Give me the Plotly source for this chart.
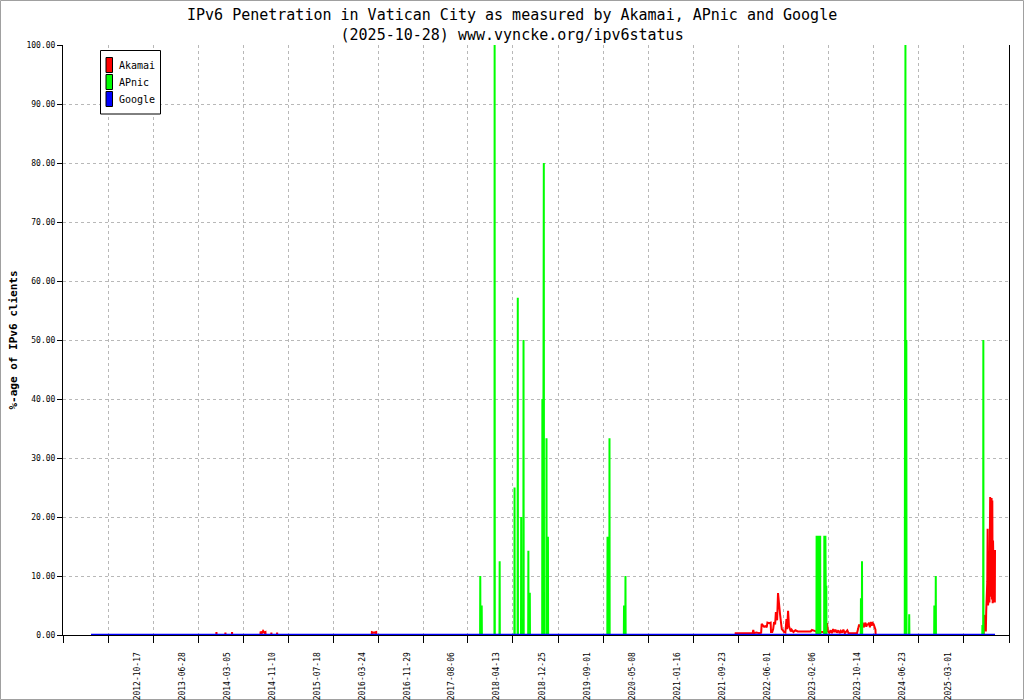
import plotly.graph_objects as go

# === Data (% of IPv6 clients) ===
google_dates = ["2011-11-06", "2025-08-21"]
google_values = [0, 0]

apnic_dates = [
    "2011-11-06",
    "2017-10-13", "2017-10-14", "2017-10-15",
    "2017-10-21", "2017-10-22", "2017-10-23",
    "2018-01-01", "2018-01-02", "2018-01-03",
    "2018-01-29", "2018-01-30", "2018-01-31",
    "2018-04-22", "2018-04-23", "2018-04-24",
    "2018-05-10", "2018-05-11", "2018-05-12",
    "2018-05-29", "2018-05-30", "2018-05-31",
    "2018-06-11", "2018-06-12", "2018-06-13",
    "2018-07-08", "2018-07-09", "2018-07-10",
    "2018-07-16", "2018-07-17", "2018-07-18",
    "2018-09-24", "2018-09-25", "2018-09-26",
    "2018-09-29", "2018-09-30", "2018-10-03", "2018-10-04",
    "2018-10-17", "2018-10-18", "2018-10-19",
    "2018-10-25", "2018-10-26", "2018-10-27",
    "2019-09-22", "2019-09-23", "2019-09-24",
    "2019-10-03", "2019-10-04", "2019-10-05",
    "2019-12-23", "2019-12-24", "2019-12-25",
    "2019-12-31", "2020-01-01", "2020-01-02",
    "2022-11-30", "2022-12-01", "2022-12-21", "2022-12-22",
    "2023-01-12", "2023-01-13", "2023-01-19", "2023-01-20",
    "2023-01-23", "2023-01-24", "2023-01-25",
    "2023-08-04", "2023-08-05", "2023-08-06",
    "2023-08-10", "2023-08-11", "2023-08-12",
    "2024-04-05", "2024-04-06", "2024-04-09", "2024-04-10",
    "2024-04-13", "2024-04-14", "2024-04-15",
    "2024-04-29", "2024-04-30", "2024-05-01",
    "2024-09-16", "2024-09-17", "2024-09-18",
    "2024-09-24", "2024-09-25", "2024-09-26",
    "2025-06-11", "2025-06-12", "2025-06-13",
    "2025-06-16", "2025-06-17", "2025-06-18",
    "2025-08-21",
]
apnic_values = [
    0,
    0, 10, 0,
    0, 5, 0,
    0, 100, 0,
    0, 12.5, 0,
    0, 25, 0,
    0, 57.14, 0,
    0, 20, 0,
    0, 50, 0,
    0, 14.29, 0,
    0, 7.14, 0,
    0, 40, 0,
    0, 80, 80, 0,
    0, 33.33, 0,
    0, 16.67, 0,
    0, 16.67, 0,
    0, 33.33, 0,
    0, 5, 0,
    0, 10, 0,
    0, 16.67, 16.67, 0,
    0, 16.67, 16.67, 0,
    0, 8.33, 0,
    0, 6.25, 0,
    0, 12.5, 0,
    0, 100, 100, 0,
    0, 50, 0,
    0, 3.5, 0,
    0, 5, 0,
    0, 10, 0,
    0, 1.7, 0,
    0, 50, 0,
    0,
]

akamai_dates = [
    "2013-10-01",
    "2013-10-04", "2013-10-05", "2013-10-06",
    "2013-11-23", "2013-11-24", "2013-11-25",
    "2013-12-30", "2013-12-31", "2014-01-01",
    "2014-06-07", "2014-06-08", "2014-06-15", "2014-06-22", "2014-06-29", "2014-07-05", "2014-07-06",
    "2014-08-06", "2014-08-07", "2014-08-08",
    "2014-09-07", "2014-09-08", "2014-09-09",
    "2016-02-17", "2016-02-18", "2016-02-28", "2016-03-13", "2016-03-14",
    "2021-09-05",
    "2021-09-06", "2021-11-01", "2021-12-10", "2021-12-13", "2021-12-17", "2021-12-30",
    "2022-01-15", "2022-01-26", "2022-01-29", "2022-02-05", "2022-02-12", "2022-02-20",
    "2022-02-26", "2022-03-02", "2022-03-12", "2022-03-20", "2022-03-22", "2022-03-29",
    "2022-04-03", "2022-04-08", "2022-04-14", "2022-04-18", "2022-04-25", "2022-04-30",
    "2022-05-05", "2022-05-11", "2022-05-17", "2022-05-21", "2022-05-27", "2022-06-02",
    "2022-06-10", "2022-06-16", "2022-06-20", "2022-06-25", "2022-06-30", "2022-07-04",
    "2022-07-10", "2022-07-15", "2022-07-25", "2022-08-05", "2022-08-18", "2022-10-29",
    "2022-11-05", "2022-11-20", "2022-12-05", "2023-01-05", "2023-01-20", "2023-01-28",
    "2023-02-02", "2023-02-10", "2023-02-17", "2023-02-24", "2023-03-03", "2023-03-10",
    "2023-03-16", "2023-03-24", "2023-04-01", "2023-04-08", "2023-04-15", "2023-04-22",
    "2023-04-29", "2023-05-07", "2023-05-14", "2023-05-21", "2023-05-28", "2023-06-07",
    "2023-07-14", "2023-07-20", "2023-07-26", "2023-08-02", "2023-08-06", "2023-08-10",
    "2023-08-15", "2023-08-20", "2023-08-25", "2023-08-30", "2023-09-04", "2023-09-09",
    "2023-09-14", "2023-09-19", "2023-09-24", "2023-09-29", "2023-10-04", "2023-10-09",
    "2023-10-15", "2023-10-20", "2023-10-25", "2023-10-26",
    "2025-06-19", "2025-06-21", "2025-06-23", "2025-06-25", "2025-06-27", "2025-06-29",
    "2025-07-01", "2025-07-03", "2025-07-05", "2025-07-07", "2025-07-09", "2025-07-11",
    "2025-07-13", "2025-07-15", "2025-07-17", "2025-07-19", "2025-07-21", "2025-07-23",
    "2025-07-25", "2025-07-27", "2025-07-29", "2025-07-31", "2025-08-02", "2025-08-04",
    "2025-08-06", "2025-08-08", "2025-08-10", "2025-08-12", "2025-08-14", "2025-08-16",
    "2025-08-18", "2025-08-20", "2025-08-21",
]
akamai_values = [
    0,
    0, 0.5, 0,
    0, 0.4, 0,
    0, 0.5, 0,
    0, 0.6, 0.3, 0.7, 0.4, 0.5, 0,
    0, 0.4, 0,
    0, 0.4, 0,
    0, 0.5, 0.4, 0.5, 0,
    0,
    0.3, 0.3, 0.3, 0.85, 0.3, 0.4,
    0.3, 0.4, 1.9, 1.6, 1.4, 1.5,
    1.3, 2.1, 2.0, 2.1, 0.5, 0.5,
    1.0, 2.2, 1.8, 3.9, 2.5, 7.1,
    5.0, 3.6, 2.0, 1.0, 0.8, 0.5,
    0.4, 2.7, 1.0, 4.1, 1.5, 0.9,
    0.6, 0.9, 0.5, 0.8, 0.6, 0.6,
    0.85, 0.7, 0.5, 0.5, 0.6, 2.0,
    0.6, 0.4, 0.8, 0.3, 1.0, 0.5,
    0.9, 0.4, 0.8, 0.3, 0.7, 0.4,
    0.9, 0.3, 0.6, 0.8, 0.3, 0.3,
    0.3, 1.0, 1.8, 1.4, 2.0, 1.6,
    2.1, 1.3, 1.8, 2.1, 1.4, 1.9,
    1.7, 2.1, 1.3, 2.2, 1.6, 2.0,
    1.8, 1.3, 0.9, 0,
    0, 3.4, 1.0, 3.2, 0.8, 1.5,
    0.6, 4.0, 6.8, 5.0, 9.0, 18.0,
    5.0, 17.0, 6.0, 12.0, 5.5, 15.0,
    23.4, 6.5, 23.0, 7.0, 23.2, 6.0,
    22.8, 5.4, 16.0, 6.8, 16.0, 5.5,
    14.4, 5.5, 14.4,
]

tick_dates = [
    "2011-06-03", "2012-02-09", "2012-10-17", "2013-06-28", "2014-03-05", "2014-11-10",
    "2015-07-18", "2016-03-24", "2016-11-29", "2017-08-06", "2018-04-13", "2018-12-25",
    "2019-09-01", "2020-05-08", "2021-01-16", "2021-09-23", "2022-06-01", "2023-02-06",
    "2023-10-14", "2024-06-23", "2025-03-01", "2025-11-07",
]
tick_labels = [""] * 2 + tick_dates[2:-1] + [""]
x_range = ["2011-06-03", "2025-11-07"]

AKAMAI = "#ff0000"
APNIC = "#00ff00"
GOOGLE = "#0000ff"
MONO = "DejaVu Sans Mono"

# === Page geometry (pixels) ===
W, H = 1024, 700
L, R, T, B = 63, 1009, 45, 635


def px(x):
    return (x - L) / (R - L)


def py(y):
    return (B - y) / (B - T)


# === Plot ===
fig = go.Figure()
fig.add_trace(go.Scatter(x=akamai_dates, y=akamai_values, mode="lines", name="Akamai",
                         line=dict(color=AKAMAI, width=2)))
fig.add_trace(go.Scatter(x=apnic_dates, y=apnic_values, mode="lines", name="APnic",
                         line=dict(color=APNIC, width=2), fill="tozeroy", fillcolor=APNIC))
fig.add_trace(go.Scatter(x=google_dates, y=google_values, mode="lines", name="Google",
                         line=dict(color=GOOGLE, width=2.5)))

# hand-made legend box, gnuplot style (colour bars with black border)
shapes = [
    dict(type="rect", xref="paper", yref="paper", x0=px(0.5), x1=px(1023.5), y0=py(699.5), y1=py(0.5),
         line=dict(color="#a0a0a0", width=1), layer="below"),
    dict(type="rect", xref="paper", yref="paper", x0=px(100.5), x1=px(160.5), y0=py(114), y1=py(50.5),
         line=dict(color="black", width=1), fillcolor="white"),
]
annotations = [
    dict(text="IPv6 Penetration in Vatican City as measured by Akamai, APnic and Google"
              "<br>(2025-10-28) www.vyncke.org/ipv6status",
         xref="paper", yref="paper", x=px(512), y=py(4), xanchor="center", yanchor="top",
         showarrow=False, font=dict(family=MONO, size=15, color="black")),
]
for i, (name, col) in enumerate([("Akamai", AKAMAI), ("APnic", APNIC), ("Google", GOOGLE)]):
    top = 57.5 + i * 17
    shapes.append(dict(type="rect", xref="paper", yref="paper", x0=px(106), x1=px(112.5),
                       y0=py(top + 15), y1=py(top), fillcolor=col, line=dict(color="black", width=1)))
    annotations.append(dict(text=name, xref="paper", yref="paper", x=px(116.5), y=py(top + 7.5),
                            xanchor="left", yanchor="middle", showarrow=False,
                            font=dict(family=MONO, size=10, color="black")))

fig.update_layout(
    width=W, height=H,
    margin=dict(l=L, r=W - R, t=T, b=H - B, autoexpand=False),
    paper_bgcolor="white", plot_bgcolor="white",
    showlegend=False,
    shapes=shapes,
    annotations=annotations,
)
fig.update_xaxes(
    type="date", range=x_range, tickmode="array", tickvals=tick_dates, ticktext=tick_labels,
    tickangle=-90, ticklabelshift=-16, ticklabelstandoff=6,
    ticks="outside", ticklen=7, tickcolor="black",
    tickfont=dict(family=MONO, size=8, color="black"),
    showline=True, linecolor="black", linewidth=1, mirror=False,
    showgrid=True, gridcolor="#b8b8b8", griddash="3px,3px", gridwidth=1,
    zeroline=False, layer="below traces",
)
fig.update_yaxes(
    range=[0, 100], tickmode="linear", tick0=0, dtick=10, tickformat=".2f",
    ticks="outside", ticklen=5, tickcolor="black",
    tickfont=dict(family=MONO, size=8, color="black"),
    title=dict(text="<b>%-age of IPv6 clients</b>", standoff=6,
               font=dict(family=MONO, size=11, color="black")),
    showline=True, linecolor="black", linewidth=1, mirror=True,
    showgrid=True, gridcolor="#b8b8b8", griddash="3px,3px", gridwidth=1,
    zeroline=False, layer="below traces",
)

fig.write_html("out.html", config={"displayModeBar": False},
               post_script="document.body.style.margin='0';")
